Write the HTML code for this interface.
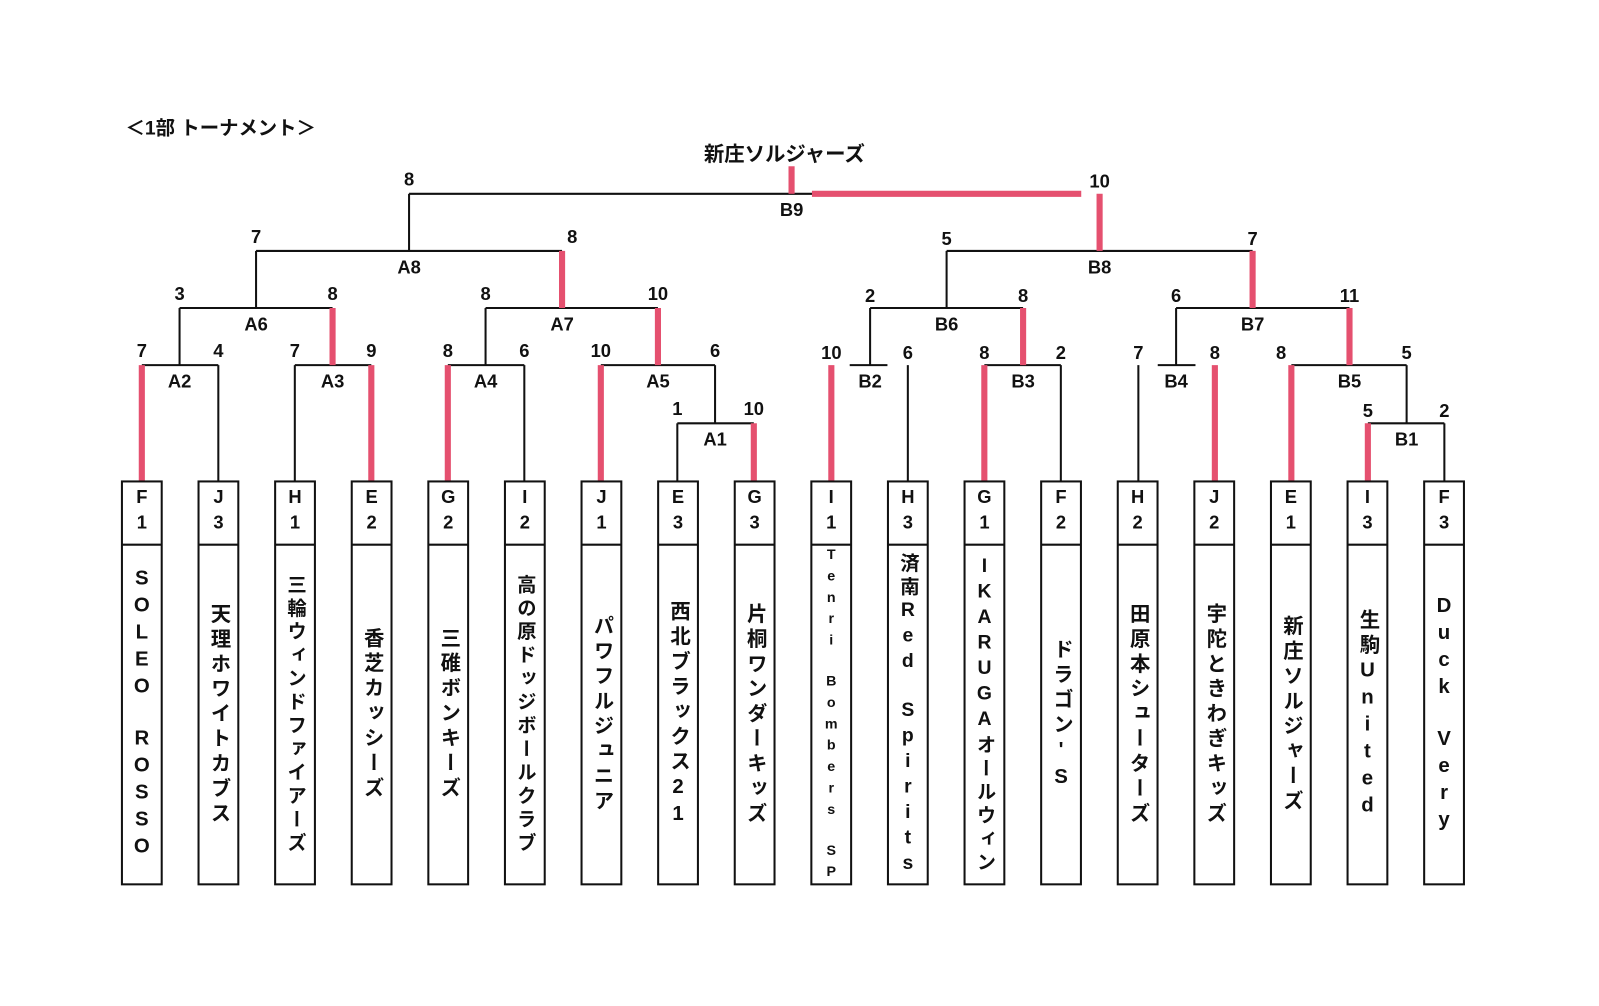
<!DOCTYPE html>
<html><head><meta charset="utf-8"><style>
body{margin:0;background:#fff;}
#w{position:relative;width:1599px;height:1006px;overflow:hidden;font-family:"Liberation Sans","Noto Sans CJK JP",sans-serif;font-weight:bold;color:#111;}
#s{position:absolute;left:0;top:0;width:1599px;height:1006px;transform:translate(-2px,0) scale(1.02);transform-origin:0 0;}
svg{position:absolute;left:0;top:0}
.n{position:absolute;top:536px;height:330px;width:39px;display:flex;align-items:center;justify-content:center;overflow:visible}
.n span{writing-mode:vertical-rl;text-orientation:upright;font-size:20px;letter-spacing:4.5px;line-height:1;white-space:nowrap}
</style></head><body><div id="w"><div id="s">
<svg width="1599" height="1006" font-family="Liberation Sans, Noto Sans CJK JP, sans-serif" font-weight="bold" font-size="18" fill="#111">
<g stroke="#111" stroke-width="2">
<line x1="141" y1="358" x2="216" y2="358"/><line x1="216" y1="358" x2="216" y2="472"/>
<line x1="178" y1="302" x2="178" y2="358"/>
<line x1="291" y1="358" x2="366" y2="358"/><line x1="291" y1="358" x2="291" y2="472"/>
<line x1="178" y1="302" x2="328" y2="302"/><line x1="253" y1="246" x2="253" y2="302"/>
<line x1="441" y1="358" x2="516" y2="358"/><line x1="516" y1="358" x2="516" y2="472"/>
<line x1="478" y1="302" x2="478" y2="358"/>
<line x1="666" y1="415" x2="741" y2="415"/><line x1="666" y1="415" x2="666" y2="472"/>
<line x1="703" y1="358" x2="703" y2="415"/>
<line x1="591" y1="358" x2="703" y2="358"/>
<line x1="478" y1="302" x2="647" y2="302"/>
<line x1="253" y1="246" x2="553" y2="246"/><line x1="403" y1="190" x2="403" y2="246"/>
<line x1="403" y1="190" x2="800" y2="190"/>
<line x1="930" y1="246" x2="1230" y2="246"/><line x1="930" y1="246" x2="930" y2="302"/>
<line x1="855" y1="302" x2="1005" y2="302"/><line x1="855" y1="302" x2="855" y2="358"/>
<line x1="835" y1="358" x2="872" y2="358"/>
<line x1="892" y1="358" x2="892" y2="472"/>
<line x1="967" y1="358" x2="1042" y2="358"/><line x1="1042" y1="358" x2="1042" y2="472"/>
<line x1="1155" y1="302" x2="1325" y2="302"/><line x1="1155" y1="302" x2="1155" y2="358"/>
<line x1="1137" y1="358" x2="1174" y2="358"/>
<line x1="1118" y1="358" x2="1118" y2="472"/>
<line x1="1268" y1="358" x2="1381" y2="358"/><line x1="1381" y1="358" x2="1381" y2="415"/>
<line x1="1343" y1="415" x2="1418" y2="415"/><line x1="1418" y1="415" x2="1418" y2="472"/>
</g>
<g stroke="#e5506f" stroke-width="6">
<line x1="141" y1="358" x2="141" y2="472"/>
<line x1="366" y1="358" x2="366" y2="472"/><line x1="328" y1="302" x2="328" y2="358"/>
<line x1="441" y1="358" x2="441" y2="472"/>
<line x1="741" y1="415" x2="741" y2="472"/>
<line x1="591" y1="358" x2="591" y2="472"/><line x1="647" y1="302" x2="647" y2="358"/>
<line x1="553" y1="246" x2="553" y2="302"/>
<line x1="778" y1="163" x2="778" y2="190"/>
<line x1="798" y1="190" x2="1062" y2="190"/>
<line x1="1080" y1="190" x2="1080" y2="246"/>
<line x1="817" y1="358" x2="817" y2="472"/>
<line x1="967" y1="358" x2="967" y2="472"/><line x1="1005" y1="302" x2="1005" y2="358"/>
<line x1="1230" y1="246" x2="1230" y2="302"/>
<line x1="1193" y1="358" x2="1193" y2="472"/>
<line x1="1268" y1="358" x2="1268" y2="472"/><line x1="1325" y1="302" x2="1325" y2="358"/>
<line x1="1343" y1="415" x2="1343" y2="472"/>
</g>
<g text-anchor="middle">
<text x="178" y="380">A2</text><text x="328" y="380">A3</text><text x="478" y="380">A4</text><text x="647" y="380">A5</text><text x="703" y="437">A1</text>
<text x="253" y="324">A6</text><text x="553" y="324">A7</text><text x="403" y="268">A8</text><text x="778" y="212">B9</text>
<text x="855" y="380">B2</text><text x="1005" y="380">B3</text><text x="1155" y="380">B4</text><text x="1325" y="380">B5</text><text x="1381" y="437">B1</text>
<text x="930" y="324">B6</text><text x="1230" y="324">B7</text><text x="1080" y="268">B8</text>
<text x="141" y="350">7</text><text x="216" y="350">4</text><text x="291" y="350">7</text><text x="366" y="350">9</text>
<text x="441" y="350">8</text><text x="516" y="350">6</text><text x="591" y="350">10</text><text x="703" y="350">6</text>
<text x="666" y="407">1</text><text x="741" y="407">10</text>
<text x="178" y="294">3</text><text x="328" y="294">8</text><text x="478" y="294">8</text><text x="647" y="294">10</text>
<text x="253" y="238">7</text><text x="563" y="238">8</text><text x="403" y="182">8</text><text x="1080" y="184">10</text>
<text x="930" y="240">5</text><text x="1230" y="240">7</text>
<text x="855" y="296">2</text><text x="1005" y="296">8</text><text x="1155" y="296">6</text><text x="1325" y="296">11</text>
<text x="817" y="352">10</text><text x="892" y="352">6</text><text x="967" y="352">8</text><text x="1042" y="352">2</text>
<text x="1118" y="352">7</text><text x="1193" y="352">8</text><text x="1258" y="352">8</text><text x="1381" y="352">5</text>
<text x="1343" y="409">5</text><text x="1418" y="409">2</text>
<text x="771" y="158" font-size="20">新庄ソルジャーズ</text>
</g>
<text x="125" y="132" font-size="19">＜1部 トーナメント＞</text>
<g id="boxes" stroke="#111" stroke-width="2" fill="none"></g>
<g text-anchor="middle" font-size="18" id="lab"></g>
</svg>
<div id="names"></div>
</div></div>
<script>
var c=["F1","J3","H1","E2","G2","I2","J1","E3","G3","I1","H3","G1","F2","H2","J2","E1","I3","F3"];
var names=["SOLEO ROSSO","天理ホワイトカブス","三輪ウィンドファイアーズ","香芝カッシーズ","三碓ボンキーズ","高の原ドッジボールクラブ","パワフルジュニア","西北ブラックス21","片桐ワンダーキッズ","Tenri Bombers SP","済南Red Spirits","IKARUGAオールウィン","ドラゴン'S","田原本シューターズ","宇陀ときわぎキッズ","新庄ソルジャーズ","生駒United","Duck Very"];
var ns="http://www.w3.org/2000/svg",b=document.getElementById("boxes"),l=document.getElementById("lab"),h="";
for(var i=0;i<18;i++){var x=141+75.1*i;
var r=document.createElementNS(ns,"rect");r.setAttribute("x",x-19.5);r.setAttribute("y",472);r.setAttribute("width",39);r.setAttribute("height",395);b.appendChild(r);
var d=document.createElementNS(ns,"line");d.setAttribute("x1",x-19.5);d.setAttribute("x2",x+19.5);d.setAttribute("y1",534);d.setAttribute("y2",534);b.appendChild(d);
for(var k=0;k<2;k++){var t=document.createElementNS(ns,"text");t.setAttribute("x",x);t.setAttribute("y",k?518:493);t.textContent=c[i][k];l.appendChild(t);}
var n=names[i],st='';
if(n=="Tenri Bombers SP")st=' style="font-size:14px;letter-spacing:5px"';
else if(n.length>=12)st=' style="font-size:19px;letter-spacing:4px"';
h+='<div class="n" style="left:'+(x-19.5)+'px"><span'+st+'>'+n.replace(/ /g,"\u3000")+'</span></div>';}
document.getElementById("names").innerHTML=h;
</script>
</body></html>
